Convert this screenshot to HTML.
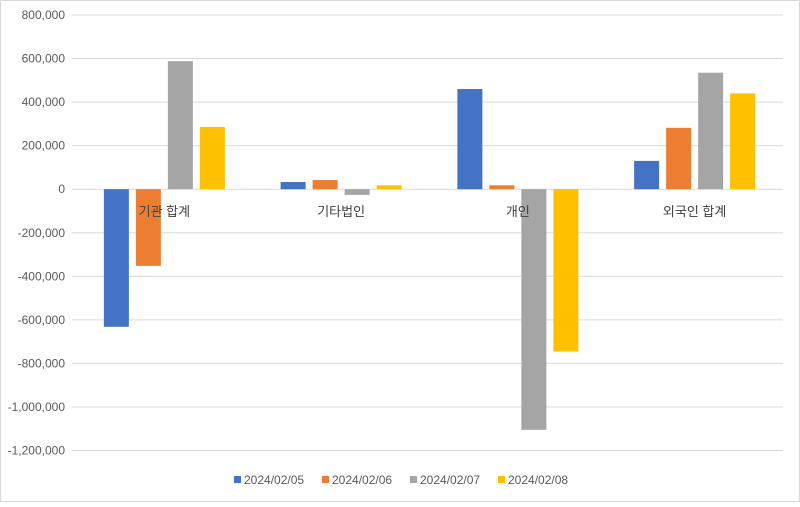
<!DOCTYPE html>
<html><head><meta charset="utf-8"><style>
body{margin:0;background:#fff;}
svg text{font-family:"Liberation Sans","Noto Sans CJK KR",sans-serif;}
</style></head><body>
<svg id="chart" width="800" height="502" viewBox="0 0 800 502">
<rect x="0.5" y="0.5" width="799" height="501" fill="#fff" stroke="#d9d9d9"/>
<g id="grid"></g><g id="bars"></g><g id="labels"></g><g id="legend"></g>
</svg>
<script>
const categories=["기관 합계","기타법인","개인","외국인 합계"];
const seriesNames=["2024/02/05","2024/02/06","2024/02/07","2024/02/08"];
const s0505=[-632000,33000,460000,130000];
const s0506=[-352000,42000,18000,282000];
const s0507=[588000,-26000,-1105000,535000];
const s0508=[286000,18000,-745000,440000];
const seriesVals=[s0505,s0506,s0507,s0508];
const colors=["#4472c4","#ed7d31","#a5a5a5","#ffc000"];
const ticks=[800000,600000,400000,200000,0,-200000,-400000,-600000,-800000,-1000000,-1200000];
const NS="http://www.w3.org/2000/svg";
const x0=76,x1=783,yTop=15,yBot=450.5,vMax=800000,vMin=-1200000;
function y(v){return yTop+(vMax-v)/(vMax-vMin)*(yBot-yTop);}
const gw=(x1-x0)/categories.length;
function gx(i){return x0+gw*(i+0.5);}
function mk(t,a,p){const e=document.createElementNS(NS,t);for(const k in a)e.setAttribute(k,a[k]);p.appendChild(e);return e;}
const grid=document.getElementById('grid');
ticks.forEach(t=>{
 const l=mk('line',{x1:x0-4,x2:x1,y1:y(t),y2:y(t),stroke:'#d9d9d9','stroke-width':1},grid);
 
 
 const tx=mk('text',{x:65,y:y(t)+4,'text-anchor':'end','font-size':12,fill:'#595959'},grid);
 tx.textContent=t.toLocaleString('en-US');
 
 
});
const bars=document.getElementById('bars');
const bw=25,step=32;
categories.forEach((c,i)=>{
 seriesVals.forEach((s,j)=>{
  const v=s[i];const cx=gx(i)+(j-1.5)*step;
  const r=mk('rect',{x:cx-bw/2,y:Math.min(y(v),y(0)),width:bw,height:Math.abs(y(v)-y(0)),fill:colors[j]},bars);
  
  
 });
 const t=mk('text',{x:gx(i),y:216,'text-anchor':'middle','font-size':13,fill:'#404040'},document.getElementById('labels'));
 t.textContent=c;
 
 
});
const lg=document.getElementById('legend');
const lx=[234,322,410,498];
seriesNames.forEach((n,j)=>{
 const r=mk('rect',{x:lx[j],y:476,width:7,height:7,fill:colors[j]},lg);
 
 
 const t=mk('text',{x:lx[j]+10,y:484,'font-size':12,fill:'#595959'},lg);
 t.textContent=n;
 
 
});
</script>
</body></html>
